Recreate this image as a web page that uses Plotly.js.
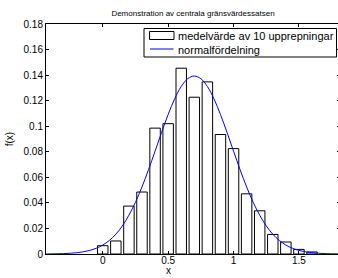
<!DOCTYPE html>
<html>
<head>
<meta charset="utf-8">
<script src="https://cdn.plot.ly/plotly-3.0.1.min.js"></script>
<style>
html, body { margin: 0; padding: 0; overflow: hidden; background: #fff; }
#chart { width: 345px; height: 278px; }
</style>
</head>
<body>
<div id="chart"></div>
<script>
// Histogram: relative frequency of the mean of 10 repetitions
const barCenters = [0.0, 0.1, 0.2, 0.3, 0.4, 0.5, 0.6, 0.7, 0.8, 0.9, 1.0, 1.1, 1.2, 1.3, 1.4, 1.5, 1.6];
const barHeights = [0.0065, 0.0102, 0.0375, 0.0485, 0.0985, 0.1020, 0.1454, 0.1227, 0.1347, 0.0935, 0.0825, 0.0471, 0.0338, 0.0153, 0.0094, 0.0036, 0.0016];

// Normal curve, values
const curveX = [-0.45, -0.40, -0.35, -0.30, -0.25, -0.20, -0.15, -0.10, -0.05, 0.00,
                0.05, 0.10, 0.15, 0.20, 0.25, 0.30, 0.35, 0.40, 0.45, 0.50,
                0.55, 0.60, 0.65, 0.70, 0.75, 0.80, 0.85, 0.90, 0.95, 1.00,
                1.05, 1.10, 1.15, 1.20, 1.25, 1.30, 1.35, 1.40, 1.45, 1.50,
                1.55, 1.60, 1.65, 1.70, 1.75, 1.80, 1.85];
const curveY = [0.00004, 0.00009, 0.00017, 0.00031, 0.00057, 0.0010, 0.0017, 0.0028, 0.0045, 0.0070,
                0.0106, 0.0155, 0.0220, 0.0304, 0.0405, 0.0525, 0.0660, 0.0805, 0.0952, 0.1092,
                0.1215, 0.1311, 0.1372, 0.1393, 0.1372, 0.1311, 0.1215, 0.1092, 0.0952, 0.0805,
                0.0660, 0.0525, 0.0405, 0.0304, 0.0220, 0.0155, 0.0106, 0.0070, 0.0045, 0.0028,
                0.0017, 0.0010, 0.00057, 0.00031, 0.00017, 0.00009, 0.00004];

const xTickVals = [0, 0.5, 1, 1.5];
const xTickText = ['0', '0.5', '1', '1.5'];
const yTickVals = [0, 0.02, 0.04, 0.06, 0.08, 0.1, 0.12, 0.14, 0.16, 0.18];
const yTickText = ['0', '0.02', '0.04', '0.06', '0.08', '0.1', '0.12', '0.14', '0.16', '0.18'];

const titleText = 'Demonstration av centrala gränsvärdessatsen';
const xLabel = 'x';
const yLabel = 'f(x)';
const seriesNames = ['medelvärde av 10 upprepningar', 'normalfördelning'];

const FONT = '"Liberation Sans", Arial, Helvetica, sans-serif';

// figure geometry (pixels)
const W = 345, H = 278;
const M = { l: 46, r: 5, t: 24, b: 24 };
const PW = W - M.l - M.r, PH = H - M.t - M.b;
const px = v => (v - M.l) / PW;          // pixel x -> paper x
const py = v => (H - M.b - v) / PH;      // pixel y -> paper y

const traces = [
  {
    type: 'bar',
    x: barCenters,
    y: barHeights,
    width: 0.08,
    name: seriesNames[0],
    marker: { color: '#ffffff', line: { color: '#000000', width: 1 } },
    hoverinfo: 'skip'
  },
  {
    type: 'scatter',
    mode: 'lines',
    x: curveX,
    y: curveY,
    name: seriesNames[1],
    line: { color: '#0000ff', width: 1, shape: 'spline' },
    hoverinfo: 'skip'
  }
];

// legend box drawn as shapes + text annotations (MATLAB-style compact legend)
const legendShapes = [
  { type: 'rect', xref: 'paper', yref: 'paper', layer: 'above',
    x0: px(144), x1: px(336.5), y0: py(28.5), y1: py(57),
    fillcolor: '#ffffff', line: { color: '#000000', width: 1 } },
  { type: 'rect', xref: 'paper', yref: 'paper', layer: 'above',
    x0: px(149.5), x1: px(174), y0: py(31.5), y1: py(39.5),
    fillcolor: '#ffffff', line: { color: '#000000', width: 1 } },
  { type: 'line', xref: 'paper', yref: 'paper', layer: 'above',
    x0: px(150), x1: px(173.5), y0: py(49), y1: py(49),
    line: { color: '#0000ff', width: 1 } }
];

const layout = {
  width: W,
  height: H,
  margin: { l: M.l, r: M.r, t: M.t, b: M.b, pad: 0 },
  paper_bgcolor: '#ffffff',
  plot_bgcolor: '#ffffff',
  font: { family: FONT, size: 10, color: '#000000' },
  showlegend: false,
  title: {
    text: titleText,
    font: { family: FONT, size: 8, color: '#000000' },
    x: 0.5, xref: 'paper', xanchor: 'center',
    y: 1 - 13 / 278, yref: 'container', yanchor: 'middle'
  },
  xaxis: {
    range: [-0.434, 1.814],
    tickvals: xTickVals,
    ticktext: xTickText,
    ticks: 'inside',
    ticklen: 3,
    tickcolor: '#000000',
    ticklabelstandoff: -3,
    showline: true,
    linecolor: '#000000',
    linewidth: 1,
    mirror: 'ticks',
    showgrid: false,
    zeroline: false,
    tickfont: { family: FONT, size: 10, color: '#000000' },
    fixedrange: true
  },
  yaxis: {
    range: [0, 0.18],
    tickvals: yTickVals,
    ticktext: yTickText,
    ticks: 'inside',
    ticklen: 3,
    tickcolor: '#000000',
    showline: true,
    linecolor: '#000000',
    linewidth: 1,
    mirror: 'ticks',
    showgrid: false,
    zeroline: false,
    tickfont: { family: FONT, size: 10, color: '#000000' },
    title: { text: yLabel, font: { family: FONT, size: 10, color: '#000000' }, standoff: 8 },
    fixedrange: true
  },
  shapes: legendShapes,
  annotations: [
    {
      text: xLabel,
      xref: 'x', yref: 'paper',
      x: 0.5, y: 0,
      yshift: -(M.b - 0.5),
      xanchor: 'center', yanchor: 'bottom',
      showarrow: false,
      font: { family: FONT, size: 10, color: '#000000' }
    },
    {
      text: seriesNames[0],
      xref: 'paper', yref: 'paper',
      x: px(175.5), y: py(35.5),
      xanchor: 'left', yanchor: 'middle',
      showarrow: false,
      font: { family: FONT, size: 11, color: '#000000' }
    },
    {
      text: seriesNames[1],
      xref: 'paper', yref: 'paper',
      x: px(175.5), y: py(49.5),
      xanchor: 'left', yanchor: 'middle',
      showarrow: false,
      font: { family: FONT, size: 11, color: '#000000' }
    }
  ]
};

Plotly.newPlot('chart', traces, layout, { displayModeBar: false, staticPlot: true });
</script>
</body>
</html>
